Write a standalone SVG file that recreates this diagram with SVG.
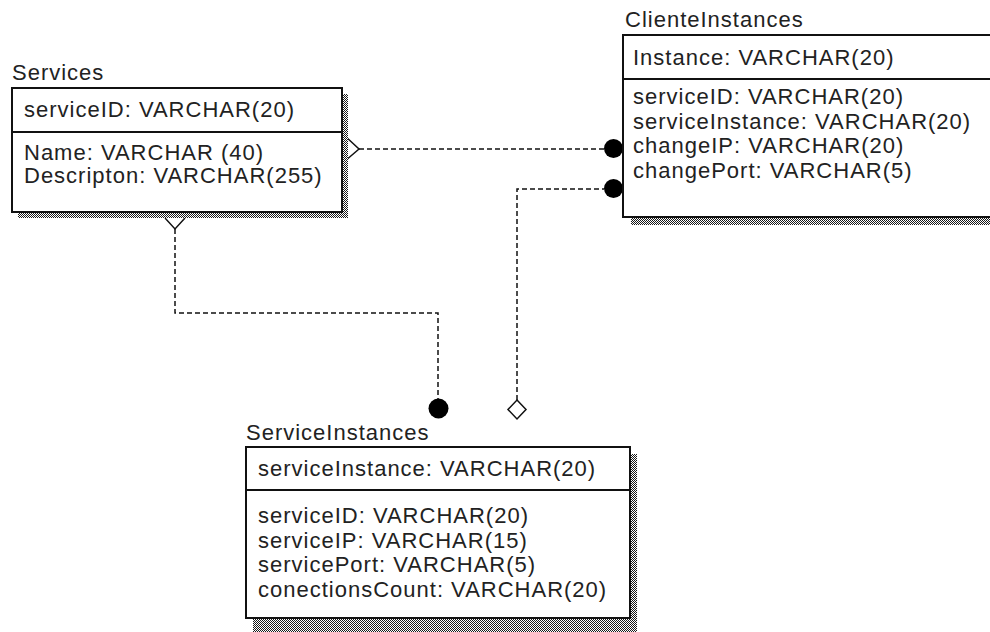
<svg xmlns="http://www.w3.org/2000/svg" width="990" height="632" viewBox="0 0 990 632">
  <defs>
    <!-- checkered drop shadow fill -->
    <pattern id="hatch" width="2" height="2" patternUnits="userSpaceOnUse">
      <rect width="2" height="2" fill="#ffffff"/>
      <rect x="0" y="0" width="1" height="1" fill="#1a1a1a"/>
      <rect x="1" y="1" width="1" height="1" fill="#1a1a1a"/>
    </pattern>
  </defs>
  <style>
    text { font-family: "Liberation Sans", Arial, sans-serif; font-size: 22px; letter-spacing: 1px; fill: #222222; }
    .shadow { fill: url(#hatch); stroke: none; }
    .box { fill: #ffffff; stroke: #111111; stroke-width: 2; }
    .div { stroke: #111111; stroke-width: 2; }
    .rel { fill: none; stroke: #111111; stroke-width: 1.5; stroke-dasharray: 5 3; }
    .prong { fill: none; stroke: #111111; stroke-width: 1.5; }
    .dot { fill: #000000; }
    .diamond { fill: #ffffff; stroke: #111111; stroke-width: 1.5; }
  </style>

  <rect width="990" height="632" fill="#ffffff"/>

  <!-- relationships -->
  <g id="connectors">
    <!-- Services -> ClienteInstances (serviceID) -->
    <polyline class="prong" points="345,136 359,149 345,161"/>
    <line class="rel" x1="359" y1="149" x2="604" y2="149"/>
    <circle class="dot" cx="613.5" cy="148.5" r="9.5"/>

    <!-- Services -> ServiceInstances (serviceID) -->
    <polyline class="prong" points="165,218 175,229 185,218"/>
    <polyline class="rel" points="175,229 175,313 438,313 438,400"/>
    <circle class="dot" cx="438.5" cy="408.5" r="10"/>

    <!-- ServiceInstances -> ClienteInstances (serviceInstance) -->
    <path class="diamond" d="M517,400 L526,409.5 L517,419 L508,409.5 Z"/>
    <polyline class="rel" points="517,400 517,189 604,189"/>
    <circle class="dot" cx="613.5" cy="188.5" r="9.5"/>
  </g>

  <!-- entity: Services -->
  <g id="services">
    <text x="12" y="80">Services</text>
    <rect class="shadow" x="18" y="94" width="330" height="124"/>
    <rect class="box" x="12" y="88" width="330" height="124"/>
    <line class="div" x1="12" y1="132" x2="342" y2="132"/>
    <text x="24" y="117">serviceID: VARCHAR(20)</text>
    <text x="24" y="160">Name: VARCHAR (40)</text>
    <text x="24" y="183">Descripton: VARCHAR(255)</text>
  </g>

  <!-- entity: ClienteInstances -->
  <g id="clienteInstances">
    <text x="625" y="27">ClienteInstances</text>
    <rect class="shadow" x="631" y="43" width="400" height="182"/>
    <rect class="box" x="623" y="35" width="400" height="182"/>
    <line class="div" x1="623" y1="79" x2="1023" y2="79"/>
    <text x="633" y="65">Instance: VARCHAR(20)</text>
    <text x="633" y="104">serviceID: VARCHAR(20)</text>
    <text x="633" y="128.5">serviceInstance: VARCHAR(20)</text>
    <text x="633" y="153">changeIP: VARCHAR(20)</text>
    <text x="633" y="177.5">changePort: VARCHAR(5)</text>
  </g>

  <!-- entity: ServiceInstances -->
  <g id="serviceInstances">
    <text x="246" y="440">ServiceInstances</text>
    <rect class="shadow" x="253" y="454" width="384" height="178"/>
    <rect class="box" x="246" y="447" width="384" height="171"/>
    <line class="div" x1="246" y1="490" x2="630" y2="490"/>
    <text x="258" y="476">serviceInstance: VARCHAR(20)</text>
    <text x="258" y="523">serviceID: VARCHAR(20)</text>
    <text x="258" y="547.5">serviceIP: VARCHAR(15)</text>
    <text x="258" y="572">servicePort: VARCHAR(5)</text>
    <text x="258" y="596.5">conectionsCount: VARCHAR(20)</text>
  </g>
</svg>
